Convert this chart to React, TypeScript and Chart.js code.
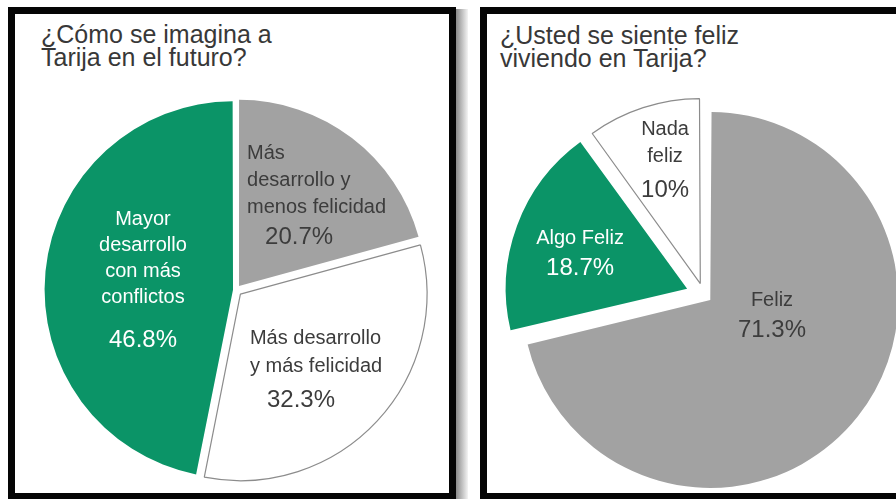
import React, { useEffect, useRef } from 'react';
import { Chart, registerables } from 'chart.js';

Chart.register(...registerables);

// ---------- data ----------
const leftTitle = ['¿Cómo se imagina a', 'Tarija en el futuro?'];
const leftLabels = [
  'Más desarrollo y menos felicidad',
  'Más desarrollo y más felicidad',
  'Mayor desarrollo con más conflictos',
];
const leftValues = [20.7, 32.3, 46.8];
const leftLabelLines = [
  ['Más', 'desarrollo y', 'menos felicidad'],
  ['Más desarrollo', 'y más felicidad'],
  ['Mayor', 'desarrollo', 'con más', 'conflictos'],
];

const rightTitle = ['¿Usted se siente feliz', 'viviendo en Tarija?'];
const rightLabels = ['Feliz', 'Algo Feliz', 'Nada feliz'];
const rightValues = [71.3, 18.7, 10];
const rightLabelLines = [['Feliz'], ['Algo Feliz'], ['Nada', 'feliz']];

// ---------- styles ----------
const FONT = '"Liberation Sans", Arial, sans-serif';
const GREEN = '#0b9467';
const GRAY = '#a2a2a2';
const WHITE = '#ffffff';
const OUTLINE = '#8c8c8c';
const DARK_TEXT = '#3c3c3c';

type LabelItem = {
  lines: string[];
  color: string;
  align: CanvasTextAlign;
  shift: number; // degrees relative to slice mid-angle
  frac: number; // fraction of radius
  gap: number;
  pctGap: number;
  pctIndent: number;
};

const sliceLabels = {
  id: 'sliceLabels',
  afterDatasetsDraw(chart: any, _args: any, opts: any) {
    const ctx = chart.ctx as CanvasRenderingContext2D;
    const meta = chart.getDatasetMeta(0);
    const ds = chart.data.datasets[0];
    const items: LabelItem[] = opts.items || [];
    meta.data.forEach((arc: any, i: number) => {
      const o = items[i];
      if (!o) return;
      const p = arc.getProps(['x', 'y', 'startAngle', 'endAngle', 'outerRadius'], true);
      const mid = (p.startAngle + p.endAngle) / 2;
      const vis = (arc.options.offset || 0) / 4;
      const cx = p.x + Math.cos(mid) * vis;
      const cy = p.y + Math.sin(mid) * vis;
      const a = mid + (o.shift * Math.PI) / 180;
      const ax = cx + Math.cos(a) * o.frac * p.outerRadius;
      const ay = cy + Math.sin(a) * o.frac * p.outerRadius;
      const total = (o.lines.length - 1) * o.gap + o.pctGap;
      const y0 = ay - total / 2;
      ctx.save();
      ctx.fillStyle = o.color;
      ctx.textBaseline = 'middle';
      ctx.textAlign = o.align;
      ctx.font = `20px ${FONT}`;
      o.lines.forEach((ln, k) => ctx.fillText(ln, ax, y0 + k * o.gap));
      ctx.font = `24px ${FONT}`;
      ctx.fillText(`${ds.data[i]}%`, ax + o.pctIndent, y0 + (o.lines.length - 1) * o.gap + o.pctGap);
      ctx.restore();
    });
  },
};

const leftItems: LabelItem[] = [
  { lines: leftLabelLines[0], color: DARK_TEXT, align: 'left', shift: -32.3, frac: 0.491, gap: 27, pctGap: 30, pctIndent: 18 },
  { lines: leftLabelLines[1], color: DARK_TEXT, align: 'left', shift: 39.8, frac: 0.406, gap: 28, pctGap: 34, pctIndent: 17 },
  { lines: leftLabelLines[2], color: '#ffffff', align: 'center', shift: 0.6, frac: 0.487, gap: 26, pctGap: 42, pctIndent: 0 },
];

const rightItems: LabelItem[] = [
  { lines: rightLabelLines[0], color: DARK_TEXT, align: 'center', shift: -24.6, frac: 0.353, gap: 27, pctGap: 30, pctIndent: 0 },
  { lines: rightLabelLines[1], color: '#ffffff', align: 'center', shift: -1.9, frac: 0.627, gap: 27, pctGap: 30, pctIndent: 0 },
  { lines: rightLabelLines[2], color: DARK_TEXT, align: 'center', shift: 2.1, frac: 0.714, gap: 27, pctGap: 33, pctIndent: 0 },
];

type PieProps = {
  labels: string[];
  values: number[];
  colors: string[];
  borderColors: string[];
  borderWidths: number[];
  offsets: number[];
  radius: number;
  items: LabelItem[];
  size: number;
  left: number;
  top: number;
};

function PieCanvas(props: PieProps) {
  const ref = useRef<HTMLCanvasElement>(null);
  useEffect(() => {
    const chart = new Chart(ref.current as HTMLCanvasElement, {
      type: 'pie',
      data: {
        labels: props.labels,
        datasets: [
          {
            data: props.values,
            backgroundColor: props.colors,
            borderColor: props.borderColors,
            borderWidth: props.borderWidths,
            offset: props.offsets,
            radius: props.radius,
          } as any,
        ],
      },
      options: {
        responsive: false,
        animation: false,
        events: [],
        layout: { padding: 0 },
        plugins: {
          legend: { display: false },
          tooltip: { enabled: false },
          sliceLabels: { items: props.items },
        } as any,
      },
      plugins: [sliceLabels as any],
    });
    return () => chart.destroy();
  }, []);
  return (
    <canvas
      ref={ref}
      width={props.size}
      height={props.size}
      style={{ position: 'absolute', left: props.left, top: props.top, width: props.size, height: props.size }}
    />
  );
}

const titleStyle: React.CSSProperties = {
  position: 'absolute',
  fontFamily: FONT,
  fontSize: 25,
  lineHeight: '23px',
  color: '#383838',
  whiteSpace: 'pre',
};

export default function App() {
  return (
    <div
      style={{
        position: 'fixed',
        left: 0,
        top: 0,
        width: 896,
        height: 499,
        overflow: 'hidden',
        background: '#ffffff',
      }}
    >
      {/* shadow between panels */}
      <div
        style={{
          position: 'absolute',
          left: 456,
          top: 9,
          width: 12,
          height: 492,
          background: 'linear-gradient(to right, #8a8a8a, #f4f4f4)',
        }}
      />
      {/* left panel */}
      <div
        style={{
          position: 'absolute',
          left: 8,
          top: 7,
          width: 448,
          height: 493,
          boxSizing: 'border-box',
          border: '7px solid #050505',
          background: '#ffffff',
        }}
      />
      {/* right panel */}
      <div
        style={{
          position: 'absolute',
          left: 480,
          top: 7,
          width: 440,
          height: 493,
          boxSizing: 'border-box',
          border: '7px solid #050505',
          background: '#ffffff',
        }}
      />
      <div style={{ ...titleStyle, left: 41, top: 23 }}>
        {leftTitle.join('\n')}
      </div>
      <div style={{ ...titleStyle, left: 500, top: 24 }}>
        {rightTitle.join('\n')}
      </div>
      <PieCanvas
        labels={leftLabels}
        values={leftValues}
        colors={[GRAY, WHITE, GREEN]}
        borderColors={[GRAY, OUTLINE, GREEN]}
        borderWidths={[0, 1.2, 0]}
        offsets={[20, 24, 12]}
        radius={186}
        items={leftItems}
        size={420}
        left={26}
        top={80}
      />
      <PieCanvas
        labels={rightLabels}
        values={rightValues}
        colors={[GRAY, GREEN, WHITE]}
        borderColors={[GRAY, GREEN, OUTLINE]}
        borderWidths={[0, 0, 1.2]}
        offsets={[32, 72, 48]}
        radius={180}
        items={rightItems}
        size={420}
        left={494}
        top={85}
      />
    </div>
  );
}
